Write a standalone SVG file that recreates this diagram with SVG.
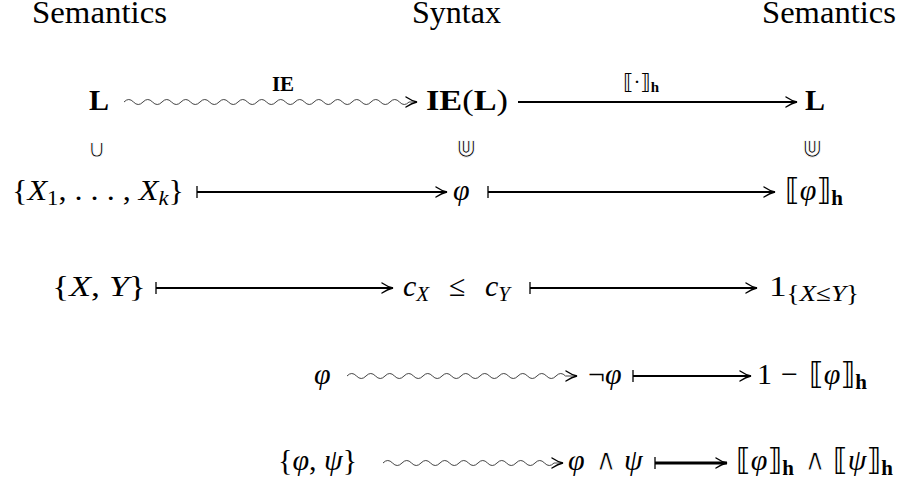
<svg xmlns="http://www.w3.org/2000/svg" width="898" height="488" viewBox="0 0 898 488">
<style>
text{font-family:"Liberation Serif","DejaVu Serif","DejaVu Sans",serif;font-size:30px;fill:#000}
.hd{font-size:32px}
.b{font-weight:bold}
.i{font-style:italic}
.s{font-size:21px}
.s2{font-size:23px}
.lbl{font-size:21px}
.sym{font-family:"DejaVu Sans",sans-serif;font-size:25px;stroke:#fff;stroke-width:0.9px}
.op{font-family:"DejaVu Sans Light","DejaVu Sans",sans-serif;font-style:normal;font-weight:normal;stroke:#fff;stroke-width:0.9px}
.ar{fill:none;stroke:#000;stroke-width:2.2}
.wv{fill:none;stroke:#444;stroke-width:1}
.bar{stroke:#000;stroke-width:1.3}
</style>
<defs>
<marker id="ah" markerUnits="userSpaceOnUse" viewBox="-13 -7 15 14" refX="0" refY="0" markerWidth="15" markerHeight="14" orient="auto" overflow="visible">
<path d="M-11,-5 Q-5,-1 0,0 Q-5,1 -11,5" fill="none" stroke="#000" stroke-width="1.4" stroke-linecap="round"/>
</marker>
</defs>
<g id="headers">
<text class="hd" x="32" y="23" textLength="135" lengthAdjust="spacingAndGlyphs">Semantics</text>
<text class="hd" x="412" y="23" textLength="89" lengthAdjust="spacingAndGlyphs">Syntax</text>
<text class="hd" x="762" y="23" textLength="134" lengthAdjust="spacingAndGlyphs">Semantics</text>
</g>
<g id="n-L-left"><text class="b" x="89" y="110">L</text></g>
<g id="n-IEL"><text x="426" y="110" textLength="82" lengthAdjust="spacingAndGlyphs"><tspan class="b">IE</tspan>(<tspan class="b">L</tspan>)</text></g>
<g id="n-L-right"><text class="b" x="805" y="110">L</text></g>
<g id="subsets">
<text class="sym" x="97" y="157" text-anchor="middle">∪</text>
<text class="sym" x="466" y="157" text-anchor="middle">⋓</text>
<text class="sym" x="812" y="157" text-anchor="middle">⋓</text>
</g>
<g id="n-X1k"><text x="12" y="200" textLength="172" lengthAdjust="spacingAndGlyphs">{<tspan class="i">X</tspan><tspan class="s" dy="5">1</tspan><tspan dy="-5">, . . . , </tspan><tspan class="i">X</tspan><tspan class="s i" dy="5">k</tspan><tspan dy="-5">}</tspan></text></g>
<g id="n-phi1"><text class="i" x="453" y="200">φ</text></g>
<g id="n-semphi1"><text x="785" y="200">⟦<tspan class="i">φ</tspan>⟧<tspan class="s b" dy="5">h</tspan></text></g>
<g id="n-XY"><text x="52" y="296" textLength="94" lengthAdjust="spacingAndGlyphs">{<tspan class="i">X</tspan>, <tspan class="i">Y</tspan>}</text></g>
<g id="n-cxcy"><text y="296"><tspan class="i" x="403">c</tspan><tspan class="s i" dy="5">X</tspan><tspan x="449" dy="-5">≤</tspan><tspan class="i" x="485">c</tspan><tspan class="s i" dy="5">Y</tspan></text></g>
<g id="n-ind"><text x="769" y="296" textLength="90" lengthAdjust="spacingAndGlyphs">1<tspan class="s2" dy="5">{</tspan><tspan class="s2 i">X</tspan><tspan class="s2">≤</tspan><tspan class="s2 i">Y</tspan><tspan class="s2">}</tspan></text></g>
<g id="n-phi2"><text class="i" x="314" y="384">φ</text></g>
<g id="n-negphi"><text x="588" y="384">¬<tspan class="i">φ</tspan></text></g>
<g id="n-oneminus"><text y="384"><tspan x="757">1</tspan><tspan x="781">−</tspan><tspan x="809">⟦</tspan><tspan class="i">φ</tspan>⟧<tspan class="s b" dy="5">h</tspan></text></g>
<g id="n-phipsi"><text x="278" y="470">{<tspan class="i">φ</tspan>, <tspan class="i">ψ</tspan>}</text></g>
<g id="n-and"><text y="470"><tspan class="i" x="568">φ</tspan><tspan class="op" x="595">∧</tspan><tspan class="i" x="624">ψ</tspan></text></g>
<g id="n-semand"><text y="470"><tspan x="736">⟦</tspan><tspan class="i">φ</tspan>⟧<tspan class="s b" dy="5">h</tspan><tspan class="op" x="804" dy="-5">∧</tspan><tspan x="833">⟦</tspan><tspan class="i">ψ</tspan>⟧<tspan class="s b" dy="5">h</tspan></text></g>
<g id="connectors">
<path class="wv" d="M124,102 q4.75,-5 9.5,0 t9.5,0 t9.5,0 t9.5,0 t9.5,0 t9.5,0 t9.5,0 t9.5,0 t9.5,0 t9.5,0 t9.5,0 t9.5,0 t9.5,0 t9.5,0 t9.5,0 t9.5,0 t9.5,0 t9.5,0 t9.5,0 t9.5,0 t9.5,0 t9.5,0 t9.5,0 t9.5,0 t9.5,0 t9.5,0 t9.5,0 t9.5,0 t9.5,0 t9.5,0 L417,102" marker-end="url(#ah)"/>
<text class="lbl b" x="283" y="91" text-anchor="middle">IE</text>
<path class="ar" d="M518,102 H797" marker-end="url(#ah)"/>
<text class="lbl" x="623" y="89">⟦·⟧<tspan class="b" font-size="15" dy="3">h</tspan></text>
<line class="bar" x1="197" y1="186" x2="197" y2="198"/>
<path class="ar" d="M197,192 H447" marker-end="url(#ah)"/>
<line class="bar" x1="488" y1="186" x2="488" y2="198"/>
<path class="ar" d="M488,192 H775" marker-end="url(#ah)"/>
<line class="bar" x1="156" y1="282" x2="156" y2="294"/>
<path class="ar" d="M156,288 H393" marker-end="url(#ah)"/>
<line class="bar" x1="530" y1="282" x2="530" y2="294"/>
<path class="ar" d="M530,288 H757" marker-end="url(#ah)"/>
<path class="wv" d="M347,376 q4.75,-5 9.5,0 t9.5,0 t9.5,0 t9.5,0 t9.5,0 t9.5,0 t9.5,0 t9.5,0 t9.5,0 t9.5,0 t9.5,0 t9.5,0 t9.5,0 t9.5,0 t9.5,0 t9.5,0 t9.5,0 t9.5,0 t9.5,0 t9.5,0 t9.5,0 t9.5,0 t9.5,0 L577,376" marker-end="url(#ah)"/>
<line class="bar" x1="633" y1="370" x2="633" y2="382"/>
<path class="ar" d="M633,376 H751" marker-end="url(#ah)"/>
<path class="wv" d="M383,463 q4.75,-5 9.5,0 t9.5,0 t9.5,0 t9.5,0 t9.5,0 t9.5,0 t9.5,0 t9.5,0 t9.5,0 t9.5,0 t9.5,0 t9.5,0 t9.5,0 t9.5,0 t9.5,0 t9.5,0 t9.5,0 t9.5,0 L563,463" marker-end="url(#ah)"/>
<line class="bar" x1="655" y1="457" x2="655" y2="469"/>
<path class="ar" style="stroke-width:3" d="M655,463 H727" marker-end="url(#ah)"/>
</g>
</svg>
